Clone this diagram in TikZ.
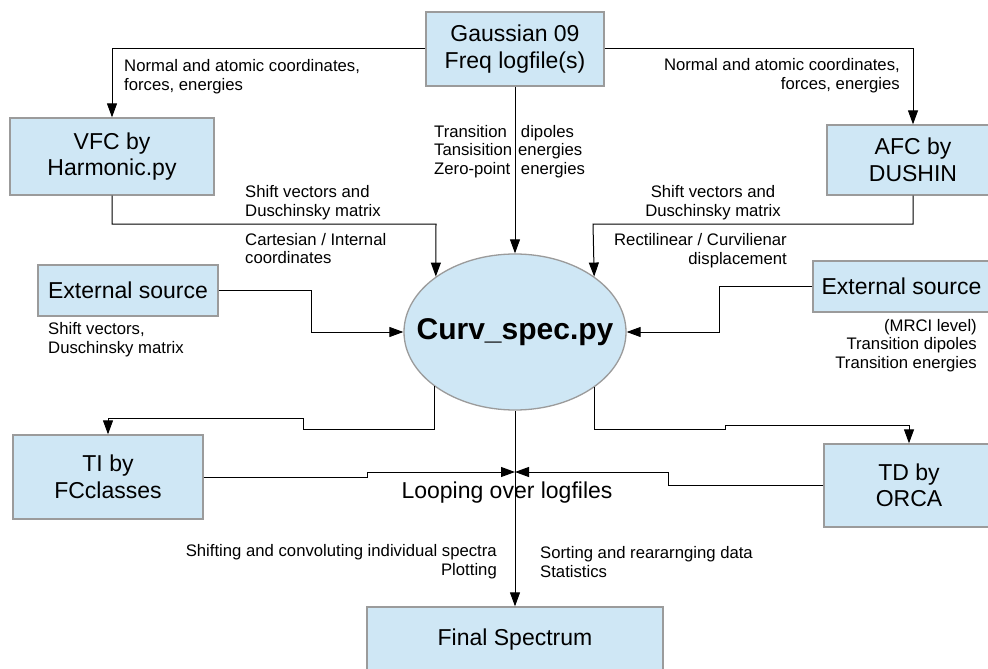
\documentclass[tikz,border=0pt]{standalone}
\usepackage{fontspec}
\setmainfont{Liberation Sans}
\usetikzlibrary{arrows.meta,shapes.geometric}
\definecolor{boxblue}{RGB}{207,231,245}
\definecolor{bordergray}{RGB}{155,155,155}
\newcommand\bxfont{\fontsize{23}{26.5}\selectfont}
\newcommand\smfont{\fontsize{16.7}{18.8}\selectfont}
\tikzset{
  box/.style={draw=bordergray, line width=1.3pt, fill=boxblue, font=\bxfont, align=center, inner sep=0pt},
  lbl/.style={font=\smfont, inner sep=0pt},
  arr/.style={-{Triangle[length=14pt,width=10pt]}, line width=1pt, draw=black},
  plain/.style={line width=1pt, draw=black}
}
\begin{document}
\begin{tikzpicture}[x=1pt,y=-1pt]
\useasboundingbox (0,0) rectangle (988,669);
\clip (0,0) rectangle (988,669);
\fill[white] (0,0) rectangle (988,669);
% boxes
\node[box, minimum width=178pt, minimum height=74pt] (gauss) at (515,49) {Gaussian 09\\Freq logfile(s)};
\node[box, minimum width=204pt, minimum height=77pt] (vfc) at (112,156.5) {VFC by\\Harmonic.py};
\node[box, minimum width=172pt, minimum height=70pt] (afc) at (913,160) {AFC by\\DUSHIN};
\node[box, minimum width=180pt, minimum height=51pt] (extL) at (128,290.5) {External source};
\node[box, minimum width=177pt, minimum height=51pt] (extR) at (901.5,286.5) {External source};
\node[box, ellipse, minimum width=222pt, minimum height=156pt] (curv) at (515,332) {};
\node[font=\fontsize{30}{34}\selectfont\bfseries, inner sep=0pt] (curvlabel) at (curv.center) {Curv\_spec.py};
\node[box, minimum width=190pt, minimum height=84pt] (ti) at (108,477) {TI by\\FCclasses};
\node[box, minimum width=170pt, minimum height=83pt] (td) at (909,485.5) {TD by\\ORCA};
\node[box, minimum width=296pt, minimum height=66pt] (final) at (515,640) {Final Spectrum};
\coordinate (junction) at (515,472);
% connectors
\draw[arr] (gauss.west) -| (vfc.north);
\draw[arr] (gauss.east) -| (afc.north);
\draw[arr] (gauss.south) -- (curv.north);
\draw[arr] (vfc.south) |- (436,224) -- (curv.145.25);
\draw[arr] (afc.south) |- (593,224) -- (curv.35.43);
\draw[arr] (extL.east) -| (311,332) -- (curv.west);
\draw[arr] (extR.west) -| (719,332) -- (curv.east);
\draw[arr] (curv.214.75) |- (303,429) |- (ti.north |- 0,418) -- (ti.north);
\draw[arr] (curv.-35.43) |- (725,429) |- (td.north |- 0,425) -- (td.north);
\draw[arr] (ti.east) -| (367,472) -- (junction);
\draw[arr] (td.west) -| (668,472) -- (junction);
\draw[arr] (curv.south) -- (final.north);
% labels
\node[lbl, anchor=west, align=left] (l1) at (124,76.5) {Normal and atomic coordinates,\\forces, energies};
\node[lbl, anchor=east, align=right] (l2) at (900,76) {Normal and atomic coordinates,\\forces, energies};
\node[lbl, anchor=west, align=left] (l3a) at (434,151.5) {Transition\\Tansisition\\Zero-point};
\node[lbl, anchor=west, align=left] (l3b) at (518,151.5) {\,dipoles\\energies\\\,energies};
\node[lbl, anchor=west, align=left] (l4) at (245,203) {Shift vectors and\\Duschinsky matrix};
\node[lbl, anchor=west, align=left] (l5) at (245,248.5) {Cartesian / Internal\\coordinates};
\node[lbl, align=center] (l6) at (713,203) {Shift vectors and\\Duschinsky matrix};
\node[lbl, anchor=east, align=right] (l7) at (787,250.5) {Rectilinear / Curvilienar\\displacement};
\node[lbl, anchor=west, align=left] (l8) at (48,339.5) {Shift vectors,\\Duschinsky matrix};
\node[lbl, anchor=east, align=right] (l9) at (977,345.5) {(MRCI level)\\Transition dipoles\\Transition energies};
\node[font=\fontsize{23}{26}\selectfont, inner sep=0pt] (loop) at (507,493) {Looping over logfiles};
\node[lbl, anchor=east, align=right] (l10) at (497,562) {Shifting and convoluting individual spectra\\Plotting};
\node[lbl, anchor=west, align=left] (l11) at (540,562) {Sorting and reararnging data\\Statistics};
\end{tikzpicture}
\end{document}
